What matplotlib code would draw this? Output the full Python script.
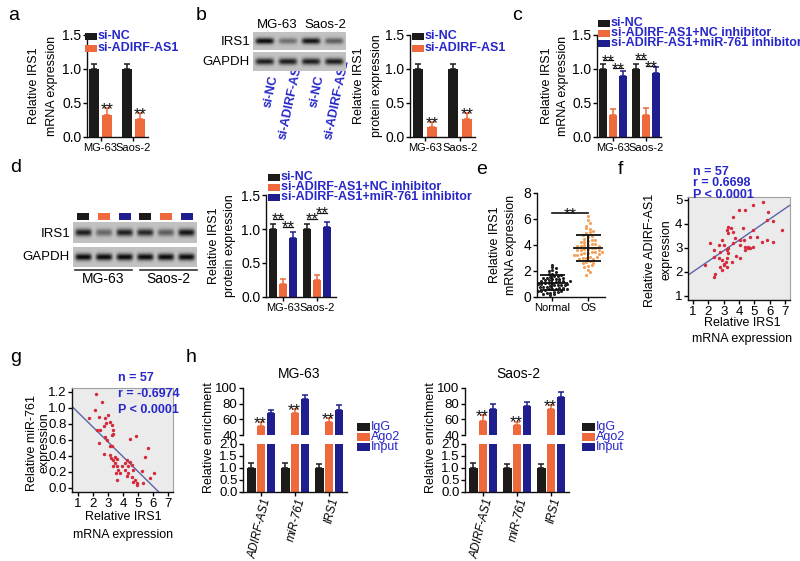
import numpy as np
import matplotlib
matplotlib.use('Agg')
import matplotlib.pyplot as plt
from matplotlib.patches import Rectangle
from matplotlib.transforms import offset_copy

plt.rcParams['font.family'] = ['Liberation Sans', 'DejaVu Sans']

# ---------------- data ----------------
cells = ['MG-63', 'Saos-2']
leg_ab = ['si-NC', 'si-ADIRF-AS1']
leg_cd = ['si-NC', 'si-ADIRF-AS1+NC inhibitor', 'si-ADIRF-AS1+miR-761 inhibitor']

a_sinc = [1.0, 1.0]
a_sinc_err = [0.08, 0.08]
a_si = [0.32, 0.27]
a_si_err = [0.10, 0.08]

b_sinc = [1.0, 1.0]
b_sinc_err = [0.08, 0.08]
b_si = [0.15, 0.27]
b_si_err = [0.07, 0.08]
b_blot_irs1 = [1.0, 0.45, 0.95, 0.55]
b_blot_gapdh = [0.9, 0.9, 0.9, 0.9]
b_lane_labels = ['si-NC', 'si-ADIRF-AS1', 'si-NC', 'si-ADIRF-AS1']

c_sinc = [1.0, 1.0]
c_sinc_err = [0.08, 0.07]
c_nc = [0.32, 0.33]
c_nc_err = [0.09, 0.09]
c_mir = [0.89, 0.94]
c_mir_err = [0.08, 0.09]

d_sinc = [1.0, 1.0]
d_sinc_err = [0.08, 0.07]
d_nc = [0.19, 0.25]
d_nc_err = [0.07, 0.08]
d_mir = [0.87, 1.03]
d_mir_err = [0.08, 0.08]
d_blot_irs1 = [0.9, 0.5, 0.9, 0.85, 0.55, 0.95]
d_blot_gapdh = [1.0, 1.0, 1.0, 1.0, 1.0, 1.0]

e_groups = ['Normal', 'OS']
e_normal = [0.15, 0.2, 0.25, 0.3, 0.3, 0.35, 0.4, 0.45, 0.5, 0.5, 0.55, 0.6, 0.6, 0.65,
            0.7, 0.7, 0.75, 0.8, 0.8, 0.85, 0.9, 0.9, 0.95, 1.0, 1.0, 1.0, 1.05, 1.1,
            1.1, 1.15, 1.2, 1.2, 1.25, 1.3, 1.3, 1.35, 1.4, 1.4, 1.45, 1.5, 1.5, 1.55,
            1.6, 1.65, 1.7, 1.75, 1.8, 1.9, 2.0, 2.1, 2.2, 2.3, 2.5, 0.6, 1.0, 1.2, 0.9]
e_os = [1.7, 1.9, 2.1, 2.3, 2.4, 2.5, 2.6, 2.7, 2.8, 2.9, 3.0, 3.0, 3.1, 3.2, 3.2, 3.3,
        3.4, 3.4, 3.5, 3.5, 3.6, 3.6, 3.7, 3.7, 3.8, 3.8, 3.9, 3.9, 4.0, 4.0, 4.1, 4.2,
        4.2, 4.3, 4.4, 4.5, 4.6, 4.7, 4.8, 4.9, 5.0, 5.1, 5.3, 5.5, 5.7, 5.9, 6.2, 3.3,
        3.6, 2.9, 4.1, 3.5, 2.6, 4.4, 5.2, 3.1, 3.9]

f_irs1 = [5.59, 4.94, 4.4, 3.97, 5.9, 3.6, 5.8, 6.2, 4.25, 3.3, 3.47, 3.2, 3.25, 3.64,
          4.94, 6.78, 2.88, 3.75, 4.07, 4.3, 4.72, 5.16, 5.8, 6.24, 5.48, 2.1, 2.67,
          3.04, 3.3, 4.07, 4.4, 4.57, 4.72, 4.94, 2.34, 2.77, 3.2, 3.3, 3.8, 2.34, 2.67,
          2.88, 3.16, 3.2, 3.53, 1.8, 2.77, 3.04, 3.2, 2.88, 2.45, 2.34, 4.07, 4.4, 3.64,
          3.0, 4.6]
f_adirf = [4.9, 4.79, 4.58, 4.58, 4.5, 4.3, 4.16, 4.1, 3.84, 3.88, 3.81, 3.75, 3.63,
           3.68, 3.75, 3.75, 3.33, 3.4, 3.33, 3.33, 3.47, 3.47, 3.33, 3.26, 3.26, 3.19,
           3.12, 3.12, 2.98, 3.12, 3.05, 3.02, 2.98, 3.05, 2.91, 2.84, 2.91, 2.77, 2.66,
           2.63, 2.56, 2.49, 2.42, 2.56, 2.42, 2.28, 2.21, 2.28, 2.21, 2.07, 1.93, 1.79,
           2.56, 2.91, 3.19, 2.35, 3.0]
f_fit = [0.438, 1.57]          # slope, intercept of the drawn regression line
f_stats = ['n = 57', 'r = 0.6698', 'P < 0.0001']

g_irs1 = [2.21, 2.59, 2.1, 1.71, 2.43, 2.81, 3.03, 2.26, 2.7, 2.88, 3.14, 3.25, 3.36,
          2.48, 2.81, 2.92, 3.25, 3.3, 2.37, 3.14, 3.25, 2.7, 3.14, 3.47, 3.19, 3.36,
          3.58, 3.47, 3.58, 3.36, 3.69, 3.54, 3.8, 3.58, 3.91, 4.13, 4.24, 4.46, 4.57,
          4.35, 4.13, 4.35, 4.24, 4.68, 4.57, 4.79, 4.9, 4.95, 4.68, 4.46, 4.86, 5.24,
          5.35, 5.46, 5.68, 5.83, 6.05]
g_mir = [1.18, 1.08, 0.98, 0.87, 0.89, 0.87, 0.91, 0.72, 0.77, 0.81, 0.83, 0.79, 0.72,
         0.72, 0.64, 0.6, 0.66, 0.68, 0.56, 0.52, 0.53, 0.43, 0.41, 0.39, 0.37, 0.35,
         0.36, 0.31, 0.27, 0.27, 0.23, 0.19, 0.19, 0.10, 0.27, 0.31, 0.35, 0.33, 0.29,
         0.27, 0.23, 0.19, 0.15, 0.23, 0.14, 0.10, 0.06, 0.04, 0.08, 0.61, 0.65, 0.21,
         0.06, 0.39, 0.5, 0.12, 0.19]
g_fit = [-0.185, 1.131]
g_stats = ['n = 57', 'r = -0.6974', 'P < 0.0001']

h_genes = ['ADIRF-AS1', 'miR-761', 'IRS1']
h_legend = ['IgG', 'Ago2', 'Input']
h_mg_igg = [1.0, 1.0, 1.0]
h_mg_igg_err = [0.2, 0.2, 0.18]
h_mg_ago2 = [51.5, 68, 56.5]
h_mg_ago2_err = [5, 5, 5]
h_mg_input = [67.5, 85.5, 72.5]
h_mg_input_err = [5, 6, 6]
h_sa_igg = [1.0, 1.0, 1.0]
h_sa_igg_err = [0.2, 0.18, 0.18]
h_sa_ago2 = [58, 53, 73]
h_sa_ago2_err = [7, 4, 5]
h_sa_input = [73, 77, 88.5]
h_sa_input_err = [6, 5, 6]

# ---------------- style ----------------
BLK = '#1d1a1a'
ORG = '#ee6a3c'
NAV = '#1e1e8e'
LEGC = '#2727c9'
COLS3 = [BLK, ORG, NAV]
STAR = 12

W, H = 800, 561
fig = plt.figure(figsize=(W / 100, H / 100), dpi=100)


def add_ax(x0, y0, x1, y1, **kw):
    return fig.add_axes([x0 / W, 1 - y1 / H, (x1 - x0) / W, (y1 - y0) / H], **kw)


def ftext(x, y, s, **kw):
    return fig.text(x / W, 1 - y / H, s, **kw)


def fsquare(x0, y0, w, h, c):
    fig.add_artist(Rectangle((x0 / W, 1 - (y0 + h) / H), w / W, h / H,
                             transform=fig.transFigure, color=c, lw=0))


def style(ax, ysize=10, xsize=8):
    for s in ['top', 'right']:
        ax.spines[s].set_visible(False)
    for s in ['left', 'bottom']:
        ax.spines[s].set_linewidth(1.0)
        ax.spines[s].set_color('#111111')
    ax.tick_params(axis='y', direction='out', length=3, width=1, labelsize=ysize, pad=1)
    ax.tick_params(axis='x', direction='out', length=3, width=1, labelsize=xsize, pad=1)


def bars(ax, series, errs, colors, offsets, width):
    for vals, e, c, off in zip(series, errs, colors, offsets):
        x = np.arange(len(vals)) + off
        ax.bar(x, vals, width, color=c, zorder=2)
        ax.errorbar(x, vals, yerr=[np.zeros(len(vals)), e], fmt='none', ecolor=c,
                    elinewidth=1.1, capsize=2, capthick=1.1, zorder=3)


def stars(ax, x, y, size=STAR):
    # place the asterisk ink just above data height y
    tr = offset_copy(ax.transData, fig=fig, y=-0.42 * size + 1.0, units='points')
    ax.text(x, y, '**', ha='center', va='baseline', fontsize=size, color='#111111',
            clip_on=False, transform=tr)


def bracket(ax, x1, x2, y):
    ax.plot([x1, x2], [y, y], color='#111111', lw=0.9, clip_on=False)
    stars(ax, (x1 + x2) / 2, y)


def legend(x, ys, labels, colors, size=9, weight='bold', sw=12, sh=7):
    for y, lab, c in zip(ys, labels, colors):
        fsquare(x, y - sh / 2, sw, sh, c)
        ftext(x + sw + 1, y, lab, color=LEGC, fontsize=size, fontweight=weight,
              va='center', ha='left')


def ylab(x, y, s, size=9, ls=1.55):
    ftext(x, y, s, rotation=90, ha='center', va='center', fontsize=size,
          multialignment='center', linespacing=ls)


def panel_label(x, y, s):
    ftext(x, y, s, fontsize=14, ha='left', va='center')


def blot(x0, y0, x1, y1, intens, bg=0.76, thick=0.35):
    ax = add_ax(x0, y0, x1, y1, zorder=5)
    n = len(intens)
    xs = np.linspace(0, n, 300)
    ys = np.linspace(-1, 1, 40)
    img = np.full((len(ys), len(xs)), bg)
    for i, v in enumerate(intens):
        wx = np.exp(-((xs - (i + 0.5)) / 0.4) ** 6)
        wy = np.exp(-(ys / thick) ** 2)
        img -= v * 0.72 * np.outer(wy, wx)
    ax.imshow(img, cmap='gray', vmin=0, vmax=1, aspect='auto', extent=[0, n, -1, 1],
              interpolation='bilinear')
    ax.set_xticks([])
    ax.set_yticks([])
    for s in ax.spines.values():
        s.set_visible(False)
    return ax


# ---------------- panel a ----------------
panel_label(8, 15, 'a')
ax = add_ax(87, 35, 148, 137)
bars(ax, [a_sinc, a_si], [a_sinc_err, a_si_err], [BLK, ORG], [-0.2, 0.2], 0.28)
for i in range(2):
    stars(ax, i + 0.2, a_si[i] + a_si_err[i])
ax.set_ylim(0, 1.5)
ax.set_xlim(-0.41, 1.44)
ax.set_yticks([0, 0.5, 1.0, 1.5])
ax.set_xticks([0, 1])
ax.set_xticklabels(cells)
style(ax)
ylab(43, 86, 'Relative IRS1\nmRNA expression', ls=1.75)
legend(85, [36, 48], leg_ab, [BLK, ORG])

# ---------------- panel b ----------------
panel_label(196, 15, 'b')
blot(253, 32, 345, 50, b_blot_irs1)
blot(253, 52, 345, 71, b_blot_gapdh)
ftext(277, 25, 'MG-63', ha='center', va='center', fontsize=9.5)
ftext(325, 25, 'Saos-2', ha='center', va='center', fontsize=9.5)
ftext(250, 42, 'IRS1', ha='right', va='center', fontsize=9.5)
ftext(250, 62, 'GAPDH', ha='right', va='center', fontsize=9.5)
lane_x = [264, 287, 310, 333]
for lx, lab in zip(lane_x, b_lane_labels):
    yend = 75 if lab == 'si-NC' else 60
    xend = lx + 10 if lab == 'si-NC' else lx + 12
    ftext(xend, yend, lab, rotation=78, rotation_mode='anchor', ha='right', va='center',
          fontsize=9, fontweight='bold', color=LEGC, zorder=1)

ax = add_ax(410, 35, 475, 137)
bars(ax, [b_sinc, b_si], [b_sinc_err, b_si_err], [BLK, ORG], [-0.2, 0.2], 0.28)
for i in range(2):
    stars(ax, i + 0.2, b_si[i] + b_si_err[i])
ax.set_ylim(0, 1.5)
ax.set_xlim(-0.43, 1.43)
ax.set_yticks([0, 0.5, 1.0, 1.5])
ax.set_xticks([0, 1])
ax.set_xticklabels(cells)
style(ax)
ylab(368, 86, 'Relative IRS1\nprotein expression', ls=1.65)
legend(412, [36, 48], leg_ab, [BLK, ORG])

# ---------------- panel c ----------------
panel_label(512, 15, 'c')
ax = add_ax(597, 35, 661, 137)
bars(ax, [c_sinc, c_nc, c_mir], [c_sinc_err, c_nc_err, c_mir_err], COLS3,
     [-0.3, 0.0, 0.3], 0.24)
bracket(ax, -0.3, 0.0, 1.13)
bracket(ax, 0.0, 0.3, 1.01)
bracket(ax, 0.7, 1.0, 1.15)
bracket(ax, 1.0, 1.3, 1.04)
ax.set_ylim(0, 1.5)
ax.set_xlim(-0.48, 1.45)
ax.set_yticks([0, 0.5, 1.0, 1.5])
ax.set_xticks([0, 1])
ax.set_xticklabels(cells)
style(ax)
ylab(555, 86, 'Relative IRS1\nmRNA expression')
legend(598, [23, 33, 43], leg_cd, COLS3)

# ---------------- panel d ----------------
panel_label(10, 168, 'd')
lane_d = np.arange(len(d_blot_irs1))
blot(73, 222, 197, 243, d_blot_irs1)
blot(73, 247, 197, 267, d_blot_gapdh)
lane_w = (197 - 73) / len(d_blot_irs1)
for i in lane_d:
    cx = 73 + lane_w * (i + 0.5)
    fsquare(cx - 6, 213, 12, 7, COLS3[i % 3])
ftext(70, 234, 'IRS1', ha='right', va='center', fontsize=9.5)
ftext(70, 257, 'GAPDH', ha='right', va='center', fontsize=9.5)
for k, cell in enumerate(cells):
    xa = 75 + k * 65
    fig.add_artist(plt.Line2D([xa / W, (xa + 57) / W], [1 - 270 / H, 1 - 270 / H],
                              color='#333333', lw=1.2, transform=fig.transFigure))
    ftext(xa + 28.5, 279, cell, ha='center', va='center', fontsize=10)

ax = add_ax(266, 195, 336, 297)
bars(ax, [d_sinc, d_nc, d_mir], [d_sinc_err, d_nc_err, d_mir_err], COLS3,
     [-0.29, 0.0, 0.29], 0.24)
bracket(ax, -0.29, 0.0, 1.15)
bracket(ax, 0.0, 0.29, 1.03)
bracket(ax, 0.71, 1.0, 1.15)
bracket(ax, 1.0, 1.29, 1.24)
ax.set_ylim(0, 1.5)
ax.set_xlim(-0.5, 1.56)
ax.set_yticks([0, 0.5, 1.0, 1.5])
ax.set_xticks([0, 1])
ax.set_xticklabels(cells)
style(ax)
ylab(222, 246, 'Relative IRS1\nprotein expression')
legend(268, [177, 187, 197], leg_cd, COLS3)

# ---------------- panel e ----------------
panel_label(476, 170, 'e')
ax = add_ax(537, 193, 605, 297)


def swarm(vals, bin_h, dx):
    vals = np.asarray(vals, float)
    off = np.zeros(len(vals))
    bins = np.floor(vals / bin_h)
    for b in np.unique(bins):
        idx = np.where(bins == b)[0]
        n = len(idx)
        off[idx] = (np.arange(n) - (n - 1) / 2) * dx
    return off


for gi, (vals, col) in enumerate([(e_normal, '#222222'), (e_os, '#f2a05a')]):
    vals = np.asarray(vals)
    ax.scatter(gi + swarm(vals, 0.25 if gi == 0 else 0.32, 0.1), vals, s=5, color=col,
               lw=0, zorder=2)
    m, sd = vals.mean(), vals.std(ddof=1)
    ax.plot([gi - 0.4, gi + 0.4], [m, m], color='#111111', lw=1.3, zorder=3)
    ax.errorbar([gi], [m], yerr=[sd], fmt='none', ecolor='#111111', elinewidth=1.3,
                capsize=9, capthick=1.3, zorder=3)
ax.plot([0, 1], [6.45, 6.45], color='#111111', lw=1.2)
stars(ax, 0.5, 6.45)
ax.set_ylim(0, 8)
ax.set_xlim(-0.42, 1.47)
ax.set_yticks([0, 2, 4, 6, 8])
ax.set_xticks([0, 1])
ax.set_xticklabels(e_groups)
style(ax)
ylab(503, 245, 'Relative IRS1\nmRNA expression')


# ---------------- scatter f / g ----------------
def corr_panel(ax, xv, yv, fit, xlim, ylim, yticks, yfmt):
    ax.set_facecolor('#ebebeb')
    ax.scatter(xv, yv, s=6, color='#d42a3a', lw=0, zorder=3)
    xx = np.array(xlim)
    ax.plot(xx, fit[0] * xx + fit[1], color='#5a64a8', lw=1.0, zorder=2)
    ax.set_xlim(*xlim)
    ax.set_ylim(*ylim)
    ax.set_xticks(range(1, 8))
    ax.set_yticks(yticks)
    ax.set_yticklabels([yfmt.format(t) for t in yticks])
    for s in ['top', 'right']:
        ax.spines[s].set_color('#a0a0a0')
        ax.spines[s].set_linewidth(0.8)
    for s in ['left', 'bottom']:
        ax.spines[s].set_color('#111111')
        ax.spines[s].set_linewidth(1.0)
    ax.tick_params(direction='out', length=3, width=1, labelsize=9.5, pad=1)


panel_label(618, 170, 'f')
ax = add_ax(688, 197, 790, 300)
corr_panel(ax, f_irs1, f_adirf, f_fit, (0.67, 7.33), (0.83, 5.12), [1, 2, 3, 4, 5],
           '{:d}')
for i, s in enumerate(f_stats):
    ftext(693, 172 + i * 11.5, s, color=LEGC, fontsize=9, fontweight='bold',
          ha='left', va='center')
ylab(658, 250, 'Relative ADIRF-AS1\nexpression', ls=1.5)
ftext(742, 323, 'Relative IRS1', ha='center', va='center', fontsize=9)
ftext(742, 339, 'mRNA expression', ha='center', va='center', fontsize=9)

panel_label(10, 358, 'g')
ax = add_ax(72, 388, 173, 492)
corr_panel(ax, g_irs1, g_mir, g_fit, (0.6, 7.33), (-0.05, 1.25),
           [0.0, 0.2, 0.4, 0.6, 0.8, 1.0, 1.2], '{:.1f}')
for i, s in enumerate(g_stats):
    ftext(118, 378 + i * 16, s, color=LEGC, fontsize=9, fontweight='bold',
          ha='left', va='center')
ylab(38, 443, 'Relative miR-761\nexpression', ls=1.1)
ftext(123, 517, 'Relative IRS1', ha='center', va='center', fontsize=9)
ftext(123, 535, 'mRNA expression', ha='center', va='center', fontsize=9)

# ---------------- panel h ----------------
panel_label(186, 358, 'h')


def rip_panel(x0, x1, title, tx, igg, igg_e, ago, ago_e, inp, inp_e, ylx, legx):
    axu = add_ax(x0, 388, x1, 435)
    axl = add_ax(x0, 444, x1, 492)
    offs = [-0.29, 0.0, 0.29]
    for a in (axu, axl):
        bars(a, [igg, ago, inp], [igg_e, ago_e, inp_e], COLS3, offs, 0.24)
        a.set_xlim(-0.54, 2.52)
        style(a, ysize=9.5)
    axu.set_ylim(40, 100)
    axu.set_yticks([40, 60, 80, 100])
    axu.spines['bottom'].set_visible(False)
    axu.set_xticks([])
    axl.set_ylim(0, 2.0)
    axl.set_yticks([0, 0.5, 1.0, 1.5, 2.0])
    axl.set_yticklabels(['0.0', '0.5', '1.0', '1.5', '2.0'])
    axl.set_xticks(range(len(h_genes)))
    axl.set_xticklabels(h_genes, rotation=76, ha='right', rotation_mode='anchor',
                        style='italic', fontsize=8.5)
    axl.tick_params(axis='x', pad=0.5)
    for i in range(len(h_genes)):
        stars(axu, i - 0.03, ago[i] + ago_e[i])
    ftext(tx, 374, title, ha='center', va='center', fontsize=10)
    ylab(ylx, 438, 'Relative enrichment', size=9)
    legend(legx, [427, 437, 447], h_legend, COLS3, size=9, weight='normal', sw=13, sh=8)


rip_panel(243, 347, 'MG-63', 299, h_mg_igg, h_mg_igg_err, h_mg_ago2, h_mg_ago2_err,
          h_mg_input, h_mg_input_err, 209, 357)
rip_panel(465, 569, 'Saos-2', 518, h_sa_igg, h_sa_igg_err, h_sa_ago2, h_sa_ago2_err,
          h_sa_input, h_sa_input_err, 431, 582)

fig.savefig('out.png', dpi=100, facecolor='white')
